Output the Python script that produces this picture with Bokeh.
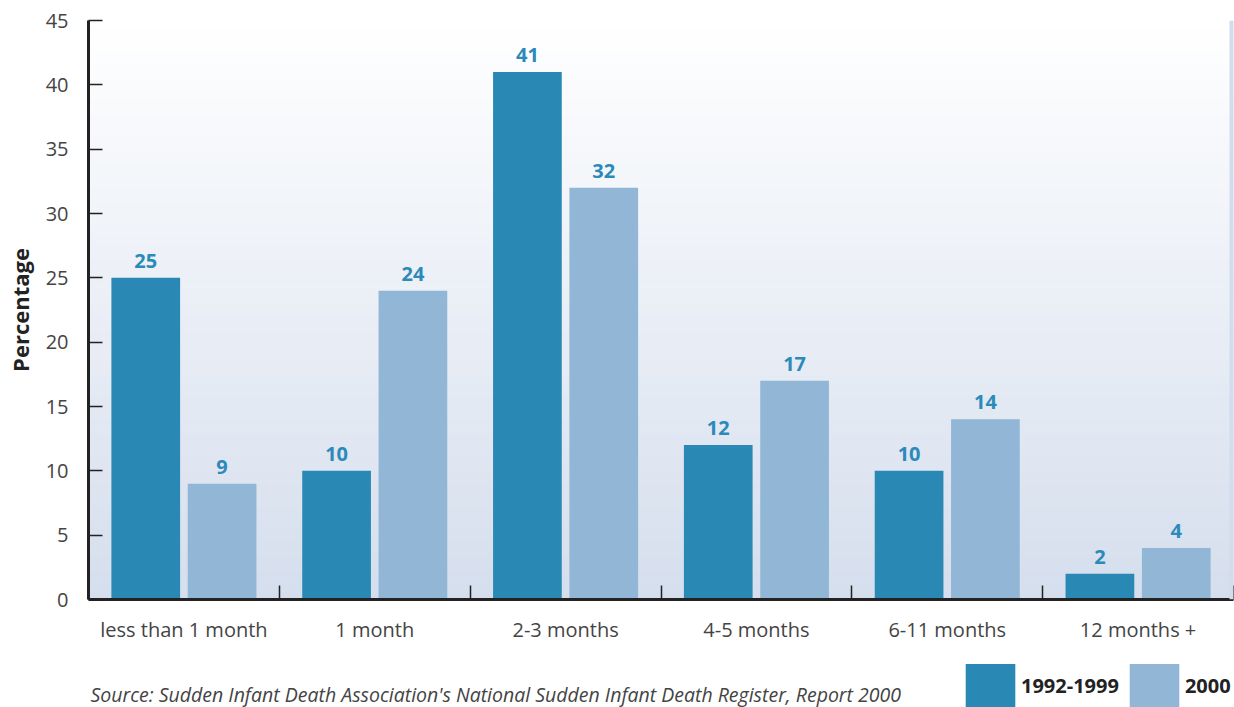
import numpy as np
from bokeh.plotting import figure
from bokeh.layouts import column
from bokeh.models import (ColumnDataSource, FixedTicker, Legend, LegendItem, Label,
                          LabelSet, Span, Range1d)
from bokeh.core.properties import value
from bokeh.embed import file_html
from bokeh.resources import INLINE

# ---------------- data ----------------
categories = ["less than 1 month", "1 month", "2-3 months", "4-5 months",
              "6-11 months", "12 months +"]
series_1992_1999 = [25, 10, 41, 12, 10, 2]
series_2000 = [9, 24, 32, 17, 14, 4]
series_names = ["1992-1999", "2000"]
y_ticks = [0, 5, 10, 15, 20, 25, 30, 35, 40, 45]
y_axis_title = "Percentage"
source_note = ("Source: Sudden Infant Death Association's National Sudden Infant "
               "Death Register, Report 2000")

# ---------------- style ----------------
DARK = "#2988b4"
LIGHT = "#91b6d6"
LABEL_BLUE = "#2b8ab9"
AXIS = "#222222"
TEXT = "#444444"
FONT = "Open Sans"
W = 1234

n_cat = len(categories)
centers = np.arange(n_cat) + 0.5
offset = 0.2
bar_w = 0.36

p = figure(width=W, height=658, output_backend="svg", toolbar_location=None,
           x_range=Range1d(0, n_cat), y_range=Range1d(0, y_ticks[-1]),
           min_border_left=88, min_border_right=1, min_border_top=20,
           min_border_bottom=59)
p.outline_line_color = None
p.background_fill_color = "white"
p.border_fill_color = "white"
p.grid.visible = False

# background vertical gradient (decorative)
nb = 80
edges = np.linspace(0, y_ticks[-1], nb + 1)
top_rgb = np.array([255, 255, 255])
bot_rgb = np.array([213, 222, 237])
cols = []
for i in range(nb):
    t = (i + 0.5) / nb  # 0 bottom -> 1 top
    c = bot_rgb + (top_rgb - bot_rgb) * t
    cols.append("#%02x%02x%02x" % tuple(int(round(v)) for v in c))
p.quad(left=0, right=n_cat, bottom=edges[:-1], top=edges[1:],
       fill_color=cols, line_color=cols, line_width=1)

src = ColumnDataSource(dict(
    x1=centers - offset, x2=centers + offset,
    v1=series_1992_1999, v2=series_2000,
    t1=[str(v) for v in series_1992_1999], t2=[str(v) for v in series_2000],
))

r1 = p.vbar(x="x1", top="v1", width=bar_w, source=src, fill_color=DARK, line_color=None)
r2 = p.vbar(x="x2", top="v2", width=bar_w, source=src, fill_color=LIGHT, line_color=None)

for xs, ys, ts in (("x1", "v1", "t1"), ("x2", "v2", "t2")):
    p.add_layout(LabelSet(x=xs, y=ys, text=ts, source=src, text_align="center",
                          text_baseline="alphabetic", y_offset=10,
                          text_font=value(FONT), text_font_style="bold",
                          text_font_size="20px", text_color=LABEL_BLUE))

# right edge line
p.add_layout(Span(location=n_cat, dimension="height", line_color="#d3dcec", line_width=8))

# x axis
xa = p.xaxis[0]
xa.ticker = FixedTicker(ticks=list(centers), minor_ticks=list(range(0, n_cat + 1)))
xa.major_label_overrides = {float(c): name for c, name in zip(centers, categories)}
xa.major_tick_in = 0
xa.major_tick_out = 0
xa.minor_tick_in = 14
xa.minor_tick_out = 0
xa.minor_tick_line_color = AXIS
xa.minor_tick_line_width = 1.5
xa.axis_line_color = AXIS
xa.axis_line_width = 3
xa.major_label_standoff = 16
xa.major_label_text_font = FONT
xa.major_label_text_font_size = "20px"
xa.major_label_text_color = TEXT

# y axis
ya = p.yaxis[0]
ya.ticker = FixedTicker(ticks=y_ticks)
ya.major_tick_in = 14
ya.major_tick_out = 0
ya.major_tick_line_color = AXIS
ya.major_tick_line_width = 1.5
ya.axis_line_color = AXIS
ya.axis_line_width = 3
ya.major_label_standoff = 20
ya.major_label_text_font = FONT
ya.major_label_text_font_size = "20px"
ya.major_label_text_color = TEXT
ya.axis_label = y_axis_title
ya.axis_label_text_font = FONT
ya.axis_label_text_font_style = "bold"
ya.axis_label_text_font_size = "22px"
ya.axis_label_text_color = AXIS
ya.axis_label_standoff = 8

# ---------------- footer: source note + legend ----------------
f = figure(width=W, height=49, output_backend="svg", toolbar_location=None,
           x_range=Range1d(0, 1), y_range=Range1d(0, 1),
           min_border_left=88, min_border_right=1, min_border_top=0, min_border_bottom=0)
f.axis.visible = False
f.grid.visible = False
f.outline_line_color = None
f.background_fill_color = "white"
f.border_fill_color = "white"

# legend-only renderers, kept outside the visible range
e1 = f.vbar(x=[-5], top=[-5], width=0.1, fill_color=DARK, line_color=None)
e2 = f.vbar(x=[-5], top=[-5], width=0.1, fill_color=LIGHT, line_color=None)

legend = Legend(items=[LegendItem(label=series_names[0], renderers=[e1]),
                       LegendItem(label=series_names[1], renderers=[e2])],
                location=(871, -5), orientation="horizontal",
                glyph_width=62, glyph_height=54, label_standoff=0, spacing=4,
                padding=0, margin=0, border_line_color=None,
                background_fill_alpha=0,
                label_text_font=FONT, label_text_font_style="bold",
                label_text_font_size="20px", label_text_color=AXIS)
f.add_layout(legend, "center")

f.add_layout(Label(x=2, y=0, x_units="screen", y_units="screen", text=source_note,
                   text_font=FONT, text_font_style="italic",
                   text_font_size="19.5px", text_color=TEXT,
                   text_baseline="bottom"))

layout = column(p, f, spacing=0)
open("out.html", "w").write(file_html(layout, INLINE))
